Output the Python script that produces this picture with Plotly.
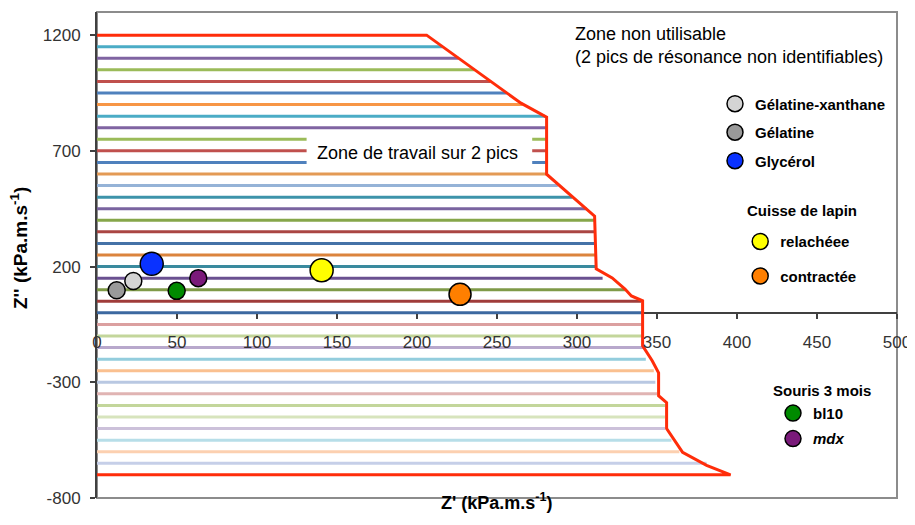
import plotly.graph_objects as go

# ---- horizontal level lines (Z'' levels, kPa.m.s-1) ----
line_levels = [1150, 1100, 1050, 1000, 950, 900, 850, 800, 750, 700, 650, 600,
               550, 500, 450, 400, 350, 300, 250, 200, 150, 100, 50, 0,
               -50, -100, -150, -200, -250, -300, -350, -400, -450, -500, -550, -600, -650]
line_ends = [216, 226, 236, 246, 256, 266, 280, 281, 281, 281, 281, 281,
             288, 297, 306, 311, 311, 311, 312, 312, 316, 330, 340, 341,
             341, 341, 342, 343, 348, 349, 350, 355, 355, 355, 359, 364, 381]
line_colors = ["#4bacc6", "#8064a2", "#9bbb59", "#c0504d", "#4f81bd", "#f79646",
               "#4bacc6", "#8064a2", "#9bbb59", "#c0504d", "#4f81bd", "#e39a55",
               "#95b3d7", "#3d93aa", "#7a64a0", "#86a64a", "#aa4643", "#4572a7", "#db843d",
               "#3a8a9e", "#6a5090", "#7f9a48", "#a03c3a", "#3c68a0",
               "#dba0a0", "#c3d69b", "#b8a8cc", "#93cddd", "#fac090", "#b9c8e2",
               "#e0b4b3", "#c3d69b", "#d7e4bd", "#ccc1da", "#b7dee8", "#fcd0b0", "#c6cfe8"]

# ---- boundary of the working zone ----
boundary_x = [0, 206, 265, 281, 281, 311, 312, 322, 330, 334, 341, 341, 347, 351, 351,
              356, 356, 366, 381, 396, 0]
boundary_y = [1200, 1200, 906, 846, 599, 418, 190, 151, 103, 73, 52, -142, -207, -259, -358,
              -388, -500, -603, -659, -700, -700]

# ---- measured samples ----
sample_names = ["Gélatine-xanthane", "Gélatine", "Glycérol", "relachéee", "contractée", "bl10", "<i>mdx</i>"]
sample_x = [22.7, 12.3, 34.2, 140.4, 226.9, 49.8, 63.3]
sample_y = [138, 98, 212, 184, 80, 95, 150]
sample_sizes = [17, 17, 23, 23, 22, 17, 17]
sample_colors = ["#d4d4d4", "#9a9a9a", "#0a32ff", "#ffff00", "#ff7f00", "#008a00", "#7a1a7a"]
sample_legends = ["legend", "legend", "legend", "legend2", "legend2", "legend3", "legend3"]

x_ticks = [0, 50, 100, 150, 200, 250, 300, 350, 400, 450, 500]
y_ticks = [-800, -300, 200, 700, 1200]
y_tick_labels = ["-800", "-300", "200", "700", "1200"]

FONT = "Liberation Sans, Arial, sans-serif"
LEG_FONT = dict(family=FONT, size=15, color="black", weight="bold")

fig = go.Figure()

for lv, le, lc in zip(line_levels, line_ends, line_colors):
    fig.add_trace(go.Scatter(x=[0, le], y=[lv, lv], mode="lines",
                             line=dict(color=lc, width=3), showlegend=False,
                             hoverinfo="skip"))

fig.add_trace(go.Scatter(x=boundary_x, y=boundary_y, mode="lines",
                         line=dict(color="#ff2d0a", width=3), showlegend=False,
                         hoverinfo="skip"))

for nm, sx, sy, ss, sc, lg in zip(sample_names, sample_x, sample_y, sample_sizes,
                                  sample_colors, sample_legends):
    fig.add_trace(go.Scatter(x=[sx], y=[sy], mode="markers", name=nm,
                             marker=dict(color=sc, size=ss, line=dict(color="black", width=1.5)),
                             legend=lg, legendgroup=nm))

# the page body has an 8px default margin: figure is sized/margined so that the
# plot area lands at page x 97..897, y 12..498
fig.update_layout(
    width=907, height=517,
    margin=dict(l=89, r=18, t=4, b=27, autoexpand=False),
    plot_bgcolor="white", paper_bgcolor="white",
    font=dict(family=FONT, size=17, color="#333333"),
    xaxis=dict(range=[0, 500], tickvals=x_ticks, showgrid=False, zeroline=False,
               showline=False, anchor="free", position=800 / 2100,
               ticks="outside", ticklen=5, tickwidth=1.5, tickcolor="#404040",
               tickfont=dict(size=17, color="#333333"), ticklabelstandoff=9),
    yaxis=dict(range=[-800, 1300], tickvals=y_ticks, ticktext=y_tick_labels, showgrid=False,
               zeroline=True, zerolinecolor="#404040", zerolinewidth=2,
               showline=True, linecolor="#404040", linewidth=2,
               ticks="outside", ticklen=5, tickwidth=1.5, tickcolor="#404040",
               tickfont=dict(size=17, color="#333333"), ticklabelstandoff=6),
    legend=dict(x=0.7725, y=0.8447, xanchor="left", yanchor="top", font=LEG_FONT,
                bgcolor="rgba(0,0,0,0)", itemsizing="trace", tracegroupgap=6),
    legend2=dict(x=0.804, y=0.5613, xanchor="left", yanchor="top", font=LEG_FONT,
                 bgcolor="rgba(0,0,0,0)", itemsizing="trace", tracegroupgap=12),
    legend3=dict(x=0.845, y=0.2082, xanchor="left", yanchor="top", font=LEG_FONT,
                 bgcolor="rgba(0,0,0,0)", itemsizing="trace", tracegroupgap=3),
)

# frame of the plot area
fig.add_shape(type="rect", xref="paper", yref="paper", x0=0, x1=1, y0=0, y1=1,
              line=dict(color="#8c8c8c", width=2), layer="below")
# white box behind the working-zone label
fig.add_shape(type="rect", xref="x", yref="y", x0=131, x1=272, y0=612, y1=771,
              fillcolor="white", line=dict(width=0), layer="above")

fig.add_annotation(x=200, y=690, xref="x", yref="y", text="Zone de travail sur 2 pics",
                   showarrow=False, font=dict(family=FONT, size=18, color="black"))
fig.add_annotation(x=(573 - 97) / 800, y=(498 - 22) / 486, xref="paper", yref="paper",
                   xanchor="left", yanchor="top", align="left",
                   text="Zone non utilisable<br>(2 pics de résonance non identifiables)",
                   showarrow=False, font=dict(family=FONT, size=18, color="black"))
fig.add_annotation(x=(745 - 97) / 800, y=(498 - 210) / 486, xref="paper", yref="paper",
                   xanchor="left", yanchor="middle", text="Cuisse de lapin", showarrow=False,
                   font=LEG_FONT)
fig.add_annotation(x=(771 - 97) / 800, y=(498 - 390) / 486, xref="paper", yref="paper",
                   xanchor="left", yanchor="middle", text="Souris 3 mois", showarrow=False,
                   font=LEG_FONT)
fig.add_annotation(x=(497 - 97) / 800, y=(498 - 515) / 486, xref="paper", yref="paper",
                   text="Z' (kPa.m.s<sup>-1</sup>)", showarrow=False,
                   font=dict(family=FONT, size=18, color="black", weight="bold"))
fig.add_annotation(x=(5 - 97) / 800, y=(498 - 248) / 486, xref="paper", yref="paper",
                   text="Z'' (kPa.m.s<sup>-1</sup>)", showarrow=False, textangle=-90,
                   font=dict(family=FONT, size=19, color="black", weight="bold"))

fig.write_html("out.html")
